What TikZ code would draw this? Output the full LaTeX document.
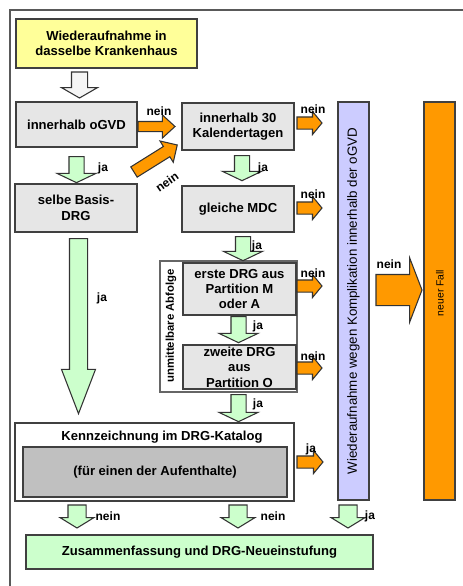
\documentclass[tikz,border=0pt]{standalone}
\usepackage{fontspec}
\setmainfont{Liberation Sans}
\usetikzlibrary{shapes.arrows,calc}

\definecolor{boxgray}{HTML}{E6E6E6}
\definecolor{katgray}{HTML}{C0C0C0}
\definecolor{paleyellow}{HTML}{FFFF99}
\definecolor{palegreen}{HTML}{CCFFCC}
\definecolor{palepurple}{HTML}{CCCCFF}
\definecolor{orangefill}{HTML}{FF9900}

\tikzset{
  box/.style={draw=black!75, line width=1pt, fill=boxgray, align=center, inner sep=0pt,
    font=\bfseries\fontsize{9.8}{11.6}\selectfont},
  lbl/.style={font=\bfseries\fontsize{9}{10}\selectfont, inner sep=0pt},
  blk/.style={single arrow, draw=black!80, line width=0.8pt, anchor=tail,
    inner xsep=0pt, outer sep=0pt, minimum width=1pt},
  jaarr/.style={blk, fill=palegreen, rotate=-90, inner ysep=5.25pt,
    single arrow head extend=9pt, single arrow tip angle=129},
  botarr/.style={blk, fill=palegreen, rotate=-90, inner ysep=6.375pt,
    single arrow head extend=6pt, single arrow tip angle=117, minimum height=17.25pt},
  neinarr/.style={blk, fill=orangefill, inner ysep=4.125pt,
    single arrow head extend=4.125pt, single arrow tip angle=101, minimum height=18.75pt}
}

\begin{document}
\begin{tikzpicture}[x=0.75pt,y=-0.75pt]
\useasboundingbox (0,0) rectangle (463,586);
\draw[black!65, line width=1.1pt] (463,10) -- (10,10) -- (10,586);

% boxes
\node[box, fill=paleyellow, minimum width=135.75pt, minimum height=36.75pt] (start) at (106.5,43.5) {Wiederaufnahme in\\dasselbe Krankenhaus};
\node[box, minimum width=90.75pt, minimum height=33.75pt] (ogvd) at (76.5,124.5) {innerhalb oGVD};
\node[box, minimum width=84pt, minimum height=35.25pt] (tage) at (238,126.5) {innerhalb 30\\Kalendertagen};
\node[box, minimum width=91.5pt, minimum height=36pt] (basis) at (76,208) {selbe Basis-\\DRG};
\node[box, minimum width=84pt, minimum height=34.5pt] (mdc) at (238,209) {gleiche MDC};
\node[draw=black!60, line width=0.8pt, minimum width=102.75pt, minimum height=98.25pt, inner sep=0pt] (abfolge) at (228.5,326.5) {};
\node[lbl, rotate=90, font=\bfseries\fontsize{8.5}{10}\selectfont] (abfolgetxt) at (171,326) {unmittelbare Abfolge};
\node[box, minimum width=84.75pt, minimum height=39pt] (erste) at (239.5,289) {erste DRG aus\\Partition M\\oder A};
\node[box, minimum width=84.75pt, minimum height=33pt] (zweite) at (239.5,367) {zweite DRG\\aus\\Partition O};
\node[box, fill=white, minimum width=209.25pt, minimum height=58.5pt] (kenn) at (154.5,462) {};
\node[lbl, font=\bfseries\fontsize{9.8}{11.6}\selectfont] (kenntitle) at (162,437) {Kennzeichnung im DRG-Katalog};
\node[box, fill=katgray, minimum width=198pt, minimum height=37.5pt] (aufenthalt) at (155,472) {(für einen der Aufenthalte)};
\node[box, fill=palegreen, minimum width=260.25pt, minimum height=25.5pt] (neu) at (199.5,552) {Zusammenfassung und DRG-Neueinstufung};
\node[box, fill=palepurple, rotate=90, font=\fontsize{10}{12}\selectfont, minimum width=298.5pt, minimum height=23.25pt] (kompl) at (353.5,301) {Wiederaufnahme wegen Komplikation innerhalb der oGVD};
\node[box, fill=orangefill, rotate=90, minimum width=298.5pt, minimum height=23.25pt] (fall) at (439.5,301) {};
\node[lbl, rotate=90, font=\fontsize{7.8}{9}\selectfont] (falltxt) at (440,293) {neuer Fall};

% down arrows
\node[blk, fill=black!4, rotate=-90, inner ysep=5.625pt, single arrow head extend=7.5pt,
  single arrow tip angle=120, minimum height=19.5pt] (a0) at (79.5,72) {};
\node[jaarr, minimum height=19.5pt] (a1) at ($(ogvd.south)+(0,9)$) {};
\node[jaarr, minimum height=18.75pt] (a2) at ($(tage.south)+(4,5)$) {};
\node[jaarr, minimum height=18pt] (a3) at ($(mdc.south)+(5,4)$) {};
\node[jaarr, minimum height=19.5pt] (a4) at ($(erste.south)+(-1,1)$) {};
\node[jaarr, minimum height=20.25pt] (a5) at ($(zweite.south)+(-1,5)$) {};
\node[blk, fill=palegreen, rotate=-90, inner ysep=6.375pt, single arrow head extend=6pt,
  single arrow tip angle=42, minimum height=131.25pt] (a6) at ($(basis.south)+(2.5,6)$) {};
\node[botarr] (b1) at (77,505) {};
\node[botarr] (b2) at (238,505) {};
\node[botarr] (b3) at (348,505) {};

% right arrows
\node[blk, fill=orangefill, inner ysep=3.375pt, single arrow head extend=4.875pt,
  single arrow tip angle=85, minimum height=27.75pt] (r0) at (138,126.5) {};
\node[blk, fill=orangefill, rotate=32, inner ysep=4.125pt, single arrow head extend=4.875pt,
  single arrow tip angle=90, minimum height=38.25pt] (r1) at (134,172) {};
\node[neinarr] (n1) at (297,123) {};
\node[neinarr] (n2) at (297,208) {};
\node[neinarr] (n3) at (297,286) {};
\node[neinarr] (n4) at (297,368) {};
\node[neinarr, minimum height=19.5pt] (n5) at (297,462) {};
\node[blk, fill=orangefill, inner ysep=11.25pt, single arrow head extend=12.375pt,
  single arrow tip angle=138, minimum height=34.5pt] (n6) at (376,290) {};

% labels
\node[lbl] (l0) at (159,111) {nein};
\node[lbl, rotate=35] (l1) at (167,182) {nein};
\node[lbl] (l2) at (103,168) {ja};
\node[lbl] (l3) at (263,168) {ja};
\node[lbl] (l4) at (257,246) {ja};
\node[lbl] (l5) at (258,326) {ja};
\node[lbl] (l6) at (258,404) {ja};
\node[lbl] (l7) at (102,298) {ja};
\node[lbl] (l8) at (313,109) {nein};
\node[lbl] (l9) at (313,194) {nein};
\node[lbl] (l10) at (313,273) {nein};
\node[lbl] (l11) at (313,356) {nein};
\node[lbl] (l12) at (311,449) {ja};
\node[lbl] (l13) at (389,264) {nein};
\node[lbl] (l14) at (108,516) {nein};
\node[lbl] (l15) at (273,516) {nein};
\node[lbl] (l16) at (370,516) {ja};
\end{tikzpicture}
\end{document}
